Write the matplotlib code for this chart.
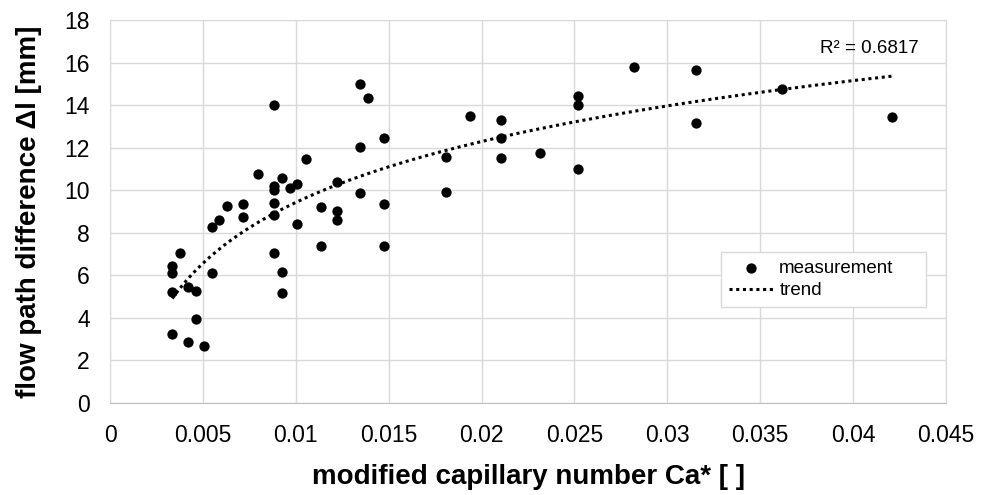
import numpy as np
import matplotlib
matplotlib.use("Agg")
import matplotlib.pyplot as plt

plt.rcParams['font.family'] = ['Liberation Sans', 'DejaVu Sans']

# capillary number Ca* and measured flow path difference (mm)
ca = [0.00335, 0.00335, 0.00335, 0.00335, 0.00377, 0.0042, 0.0042, 0.00461,
      0.00461, 0.00504, 0.00547, 0.00547, 0.00588, 0.0063, 0.00714, 0.00714,
      0.00798, 0.00883, 0.00883, 0.00883, 0.00883, 0.00883, 0.00883, 0.00924,
      0.00924, 0.00924, 0.00967, 0.01005, 0.01005, 0.01053, 0.01134, 0.01134,
      0.0122, 0.0122, 0.0122, 0.01346, 0.01346, 0.01346, 0.01389, 0.01473,
      0.01473, 0.01473, 0.01808, 0.01808, 0.01936, 0.02103, 0.02103, 0.02103,
      0.02313, 0.02517, 0.02517, 0.02517, 0.0282, 0.03154, 0.03154, 0.03617,
      0.04207]
dl = [6.43, 6.12, 5.23, 3.24, 7.03, 5.43, 2.85, 5.27,
      3.94, 2.68, 8.25, 6.12, 8.62, 9.25, 9.33, 8.75,
      10.77, 14.02, 10.19, 10.03, 9.40, 8.83, 7.06, 10.58,
      6.16, 5.18, 10.11, 10.31, 8.39, 11.46, 9.19, 7.37,
      10.38, 9.01, 8.58, 15.01, 12.02, 9.85, 14.33, 12.47,
      9.34, 7.37, 11.56, 9.92, 13.49, 13.29, 12.47, 11.52,
      11.77, 14.45, 13.99, 10.99, 15.77, 15.63, 13.18, 14.74,
      13.43]

x_ticks = [0, 0.005, 0.01, 0.015, 0.02, 0.025, 0.03, 0.035, 0.04, 0.045]
x_labels = ['0', '0.005', '0.01', '0.015', '0.02', '0.025', '0.03', '0.035', '0.04', '0.045']
y_ticks = [0, 2, 4, 6, 8, 10, 12, 14, 16, 18]
r2_text = 'R² = 0.6817'

x = np.array(ca)
y = np.array(dl)

# logarithmic trend y = a*ln(x) + b
a, b = np.polyfit(np.log(x), y, 1)
xt = np.linspace(x.min(), x.max(), 200)
yt = a * np.log(xt) + b

fig = plt.figure(figsize=(9.87, 4.95), dpi=100)
ax = fig.add_axes([0.1115, 0.1859, 0.8470, 0.7737])

ax.scatter(x, y, s=55, color='black', zorder=3, label='measurement', linewidths=0)
ax.plot(xt, yt, color='black', linestyle=(0, (1, 1.2)), linewidth=2.2, zorder=2, label='trend')

ax.set_xlim(0, 0.045)
ax.set_ylim(0, 18)
ax.set_xticks(x_ticks)
ax.set_xticklabels(x_labels)
ax.set_yticks(y_ticks)
ax.tick_params(axis='both', length=0, labelsize=16.5, labelcolor='black')
ax.tick_params(axis='x', pad=15)
ax.tick_params(axis='y', pad=14.5)

ax.grid(True, color='#d9d9d9', linewidth=1)
ax.set_axisbelow(True)
for side in ['top', 'right', 'left']:
    ax.spines[side].set_color('#d9d9d9')
ax.spines['bottom'].set_color('#bfbfbf')

ax.set_xlabel('modified capillary number Ca* [ ]', fontsize=20, fontweight='bold')
ax.set_ylabel('flow path difference Δl [mm]', fontsize=20, fontweight='bold')
ax.xaxis.set_label_coords(0.5, -0.160)
ax.yaxis.set_label_coords(-0.0813, 0.5)

ax.text(0.0409, 16.65, r2_text, fontsize=13.5, ha='center', va='center')

leg = ax.legend(loc='upper left', bbox_to_anchor=(0.731, 0.248, 0.245, 0.146),
                mode='expand', fontsize=13.5,
                frameon=True, fancybox=False, edgecolor='#d9d9d9', framealpha=1,
                handlelength=2.4, handletextpad=0.3, borderpad=0.4, labelspacing=0.3,
                borderaxespad=0)
leg.get_frame().set_linewidth(1)

fig.savefig('out.png', dpi=100)
